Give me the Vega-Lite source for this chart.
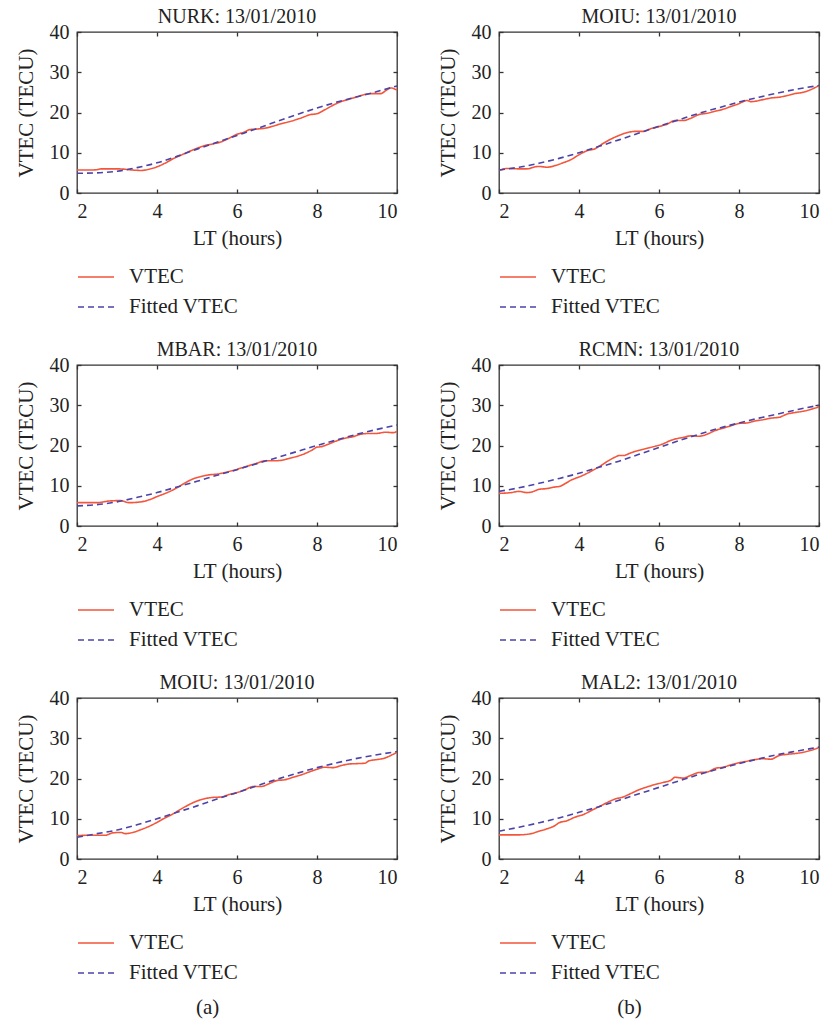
{
  "$schema": "https://vega.github.io/schema/vega-lite/v6.json",
  "background": "white",
  "padding": {"left": 14, "top": 6, "right": 5, "bottom": 5},
  "config": {
    "font": "Liberation Serif",
    "view": {"stroke": "#333", "strokeWidth": 1.3},
    "axis": {"grid": false, "domain": false, "tickSize": -4, "tickColor": "#333", "tickWidth": 1.3,
      "labelFont": "Liberation Serif", "labelFontSize": 20, "labelColor": "#222", "labelPadding": 12,
      "titleFont": "Liberation Serif", "titleFontSize": 21, "titleFontWeight": "normal", "titleColor": "#222", "titlePadding": 6},
    "axisLeft": {"titlePadding": 13},
    "title": {"font": "Liberation Serif", "fontSize": 20, "fontWeight": "normal", "color": "#222", "offset": -5},
    "legend": {"title": null, "direction": "vertical", "symbolType": "stroke", "symbolSize": 1296, "symbolStrokeWidth": 1.6,
      "labelFont": "Liberation Serif", "labelFontSize": 21, "labelColor": "#222", "labelOffset": 14, "clipHeight": 20, "rowPadding": 9},
    "line": {"strokeWidth": 1.6},
    "concat": {"spacing": 21}
  },
  "datasets": {
    "d": [
      {"p":"NURK","s":"VTEC","t":2,"v":5.7},{"p":"NURK","s":"VTEC","t":2.3,"v":5.7},{"p":"NURK","s":"VTEC","t":2.5,"v":5.8},{"p":"NURK","s":"VTEC","t":2.6,"v":6.0},{"p":"NURK","s":"VTEC","t":2.8,"v":6.0},{"p":"NURK","s":"VTEC","t":3.0,"v":6.0},{"p":"NURK","s":"VTEC","t":3.2,"v":5.9},{"p":"NURK","s":"VTEC","t":3.4,"v":5.7},{"p":"NURK","s":"VTEC","t":3.6,"v":5.6},{"p":"NURK","s":"VTEC","t":3.8,"v":5.9},{"p":"NURK","s":"VTEC","t":4.0,"v":6.5},{"p":"NURK","s":"VTEC","t":4.2,"v":7.4},{"p":"NURK","s":"VTEC","t":4.4,"v":8.5},{"p":"NURK","s":"VTEC","t":4.6,"v":9.4},{"p":"NURK","s":"VTEC","t":4.8,"v":10.3},{"p":"NURK","s":"VTEC","t":5.0,"v":11.1},{"p":"NURK","s":"VTEC","t":5.2,"v":11.8},{"p":"NURK","s":"VTEC","t":5.4,"v":12.2},{"p":"NURK","s":"VTEC","t":5.6,"v":12.7},{"p":"NURK","s":"VTEC","t":5.8,"v":13.6},{"p":"NURK","s":"VTEC","t":6.0,"v":14.6},{"p":"NURK","s":"VTEC","t":6.2,"v":15.2},{"p":"NURK","s":"VTEC","t":6.3,"v":15.7},{"p":"NURK","s":"VTEC","t":6.5,"v":15.9},{"p":"NURK","s":"VTEC","t":6.7,"v":16.1},{"p":"NURK","s":"VTEC","t":6.9,"v":16.6},{"p":"NURK","s":"VTEC","t":7.1,"v":17.2},{"p":"NURK","s":"VTEC","t":7.3,"v":17.7},{"p":"NURK","s":"VTEC","t":7.5,"v":18.3},{"p":"NURK","s":"VTEC","t":7.7,"v":19.0},{"p":"NURK","s":"VTEC","t":7.8,"v":19.4},{"p":"NURK","s":"VTEC","t":8.0,"v":19.7},{"p":"NURK","s":"VTEC","t":8.2,"v":20.7},{"p":"NURK","s":"VTEC","t":8.4,"v":21.8},{"p":"NURK","s":"VTEC","t":8.6,"v":22.7},{"p":"NURK","s":"VTEC","t":8.8,"v":23.3},{"p":"NURK","s":"VTEC","t":9.0,"v":23.9},{"p":"NURK","s":"VTEC","t":9.2,"v":24.5},{"p":"NURK","s":"VTEC","t":9.4,"v":24.7},{"p":"NURK","s":"VTEC","t":9.6,"v":24.7},{"p":"NURK","s":"VTEC","t":9.7,"v":25.3},{"p":"NURK","s":"VTEC","t":9.85,"v":26.1},{"p":"NURK","s":"VTEC","t":9.95,"v":25.8},{"p":"NURK","s":"VTEC","t":10,"v":25.6},
      {"p":"NURK","s":"Fitted VTEC","t":2,"v":4.9},{"p":"NURK","s":"Fitted VTEC","t":2.5,"v":5.0},{"p":"NURK","s":"Fitted VTEC","t":3,"v":5.4},{"p":"NURK","s":"Fitted VTEC","t":3.5,"v":6.3},{"p":"NURK","s":"Fitted VTEC","t":4,"v":7.5},{"p":"NURK","s":"Fitted VTEC","t":4.5,"v":9.1},{"p":"NURK","s":"Fitted VTEC","t":5,"v":10.9},{"p":"NURK","s":"Fitted VTEC","t":5.5,"v":12.6},{"p":"NURK","s":"Fitted VTEC","t":6,"v":14.3},{"p":"NURK","s":"Fitted VTEC","t":6.5,"v":16.0},{"p":"NURK","s":"Fitted VTEC","t":7,"v":17.8},{"p":"NURK","s":"Fitted VTEC","t":7.5,"v":19.5},{"p":"NURK","s":"Fitted VTEC","t":8,"v":21.1},{"p":"NURK","s":"Fitted VTEC","t":8.5,"v":22.6},{"p":"NURK","s":"Fitted VTEC","t":9,"v":23.9},{"p":"NURK","s":"Fitted VTEC","t":9.5,"v":25.2},{"p":"NURK","s":"Fitted VTEC","t":10,"v":26.6},

      {"p":"MOIUb","s":"VTEC","t":2,"v":5.6},{"p":"MOIUb","s":"VTEC","t":2.2,"v":6.1},{"p":"MOIUb","s":"VTEC","t":2.5,"v":6.0},{"p":"MOIUb","s":"VTEC","t":2.7,"v":6.0},{"p":"MOIUb","s":"VTEC","t":2.9,"v":6.5},{"p":"MOIUb","s":"VTEC","t":3.0,"v":6.6},{"p":"MOIUb","s":"VTEC","t":3.2,"v":6.4},{"p":"MOIUb","s":"VTEC","t":3.4,"v":6.8},{"p":"MOIUb","s":"VTEC","t":3.6,"v":7.5},{"p":"MOIUb","s":"VTEC","t":3.8,"v":8.3},{"p":"MOIUb","s":"VTEC","t":4.0,"v":9.5},{"p":"MOIUb","s":"VTEC","t":4.2,"v":10.5},{"p":"MOIUb","s":"VTEC","t":4.4,"v":11.0},{"p":"MOIUb","s":"VTEC","t":4.6,"v":12.3},{"p":"MOIUb","s":"VTEC","t":4.8,"v":13.4},{"p":"MOIUb","s":"VTEC","t":5.0,"v":14.3},{"p":"MOIUb","s":"VTEC","t":5.2,"v":15.0},{"p":"MOIUb","s":"VTEC","t":5.4,"v":15.3},{"p":"MOIUb","s":"VTEC","t":5.6,"v":15.3},{"p":"MOIUb","s":"VTEC","t":5.8,"v":16.0},{"p":"MOIUb","s":"VTEC","t":6.0,"v":16.5},{"p":"MOIUb","s":"VTEC","t":6.2,"v":17.1},{"p":"MOIUb","s":"VTEC","t":6.4,"v":18.0},{"p":"MOIUb","s":"VTEC","t":6.6,"v":18.0},{"p":"MOIUb","s":"VTEC","t":6.8,"v":18.6},{"p":"MOIUb","s":"VTEC","t":7.0,"v":19.5},{"p":"MOIUb","s":"VTEC","t":7.2,"v":19.8},{"p":"MOIUb","s":"VTEC","t":7.4,"v":20.3},{"p":"MOIUb","s":"VTEC","t":7.6,"v":20.8},{"p":"MOIUb","s":"VTEC","t":7.8,"v":21.5},{"p":"MOIUb","s":"VTEC","t":8.0,"v":22.2},{"p":"MOIUb","s":"VTEC","t":8.2,"v":23.0},{"p":"MOIUb","s":"VTEC","t":8.3,"v":22.7},{"p":"MOIUb","s":"VTEC","t":8.6,"v":23.2},{"p":"MOIUb","s":"VTEC","t":8.8,"v":23.6},{"p":"MOIUb","s":"VTEC","t":9.0,"v":23.8},{"p":"MOIUb","s":"VTEC","t":9.2,"v":24.2},{"p":"MOIUb","s":"VTEC","t":9.4,"v":24.7},{"p":"MOIUb","s":"VTEC","t":9.6,"v":25.0},{"p":"MOIUb","s":"VTEC","t":9.8,"v":25.7},{"p":"MOIUb","s":"VTEC","t":10,"v":26.7},
      {"p":"MOIUb","s":"Fitted VTEC","t":2,"v":5.7},{"p":"MOIUb","s":"Fitted VTEC","t":2.5,"v":6.4},{"p":"MOIUb","s":"Fitted VTEC","t":3,"v":7.4},{"p":"MOIUb","s":"Fitted VTEC","t":3.5,"v":8.6},{"p":"MOIUb","s":"Fitted VTEC","t":4,"v":10.0},{"p":"MOIUb","s":"Fitted VTEC","t":4.5,"v":11.6},{"p":"MOIUb","s":"Fitted VTEC","t":5,"v":13.2},{"p":"MOIUb","s":"Fitted VTEC","t":5.5,"v":14.9},{"p":"MOIUb","s":"Fitted VTEC","t":6,"v":16.6},{"p":"MOIUb","s":"Fitted VTEC","t":6.5,"v":18.2},{"p":"MOIUb","s":"Fitted VTEC","t":7,"v":19.8},{"p":"MOIUb","s":"Fitted VTEC","t":7.5,"v":21.2},{"p":"MOIUb","s":"Fitted VTEC","t":8,"v":22.6},{"p":"MOIUb","s":"Fitted VTEC","t":8.5,"v":23.8},{"p":"MOIUb","s":"Fitted VTEC","t":9,"v":24.9},{"p":"MOIUb","s":"Fitted VTEC","t":9.5,"v":25.9},{"p":"MOIUb","s":"Fitted VTEC","t":10,"v":26.7},

      {"p":"MBAR","s":"VTEC","t":2,"v":5.8},{"p":"MBAR","s":"VTEC","t":2.5,"v":5.8},{"p":"MBAR","s":"VTEC","t":2.8,"v":6.2},{"p":"MBAR","s":"VTEC","t":3.0,"v":6.3},{"p":"MBAR","s":"VTEC","t":3.1,"v":6.3},{"p":"MBAR","s":"VTEC","t":3.3,"v":5.8},{"p":"MBAR","s":"VTEC","t":3.6,"v":6.0},{"p":"MBAR","s":"VTEC","t":3.8,"v":6.5},{"p":"MBAR","s":"VTEC","t":4.0,"v":7.3},{"p":"MBAR","s":"VTEC","t":4.3,"v":8.5},{"p":"MBAR","s":"VTEC","t":4.5,"v":9.5},{"p":"MBAR","s":"VTEC","t":4.7,"v":10.7},{"p":"MBAR","s":"VTEC","t":4.9,"v":11.7},{"p":"MBAR","s":"VTEC","t":5.1,"v":12.3},{"p":"MBAR","s":"VTEC","t":5.3,"v":12.7},{"p":"MBAR","s":"VTEC","t":5.5,"v":12.9},{"p":"MBAR","s":"VTEC","t":5.7,"v":13.3},{"p":"MBAR","s":"VTEC","t":5.9,"v":13.8},{"p":"MBAR","s":"VTEC","t":6.1,"v":14.4},{"p":"MBAR","s":"VTEC","t":6.3,"v":15.0},{"p":"MBAR","s":"VTEC","t":6.5,"v":15.6},{"p":"MBAR","s":"VTEC","t":6.7,"v":16.2},{"p":"MBAR","s":"VTEC","t":6.9,"v":16.2},{"p":"MBAR","s":"VTEC","t":7.1,"v":16.3},{"p":"MBAR","s":"VTEC","t":7.3,"v":16.8},{"p":"MBAR","s":"VTEC","t":7.5,"v":17.3},{"p":"MBAR","s":"VTEC","t":7.7,"v":18.0},{"p":"MBAR","s":"VTEC","t":7.9,"v":19.0},{"p":"MBAR","s":"VTEC","t":8.0,"v":19.6},{"p":"MBAR","s":"VTEC","t":8.1,"v":19.7},{"p":"MBAR","s":"VTEC","t":8.3,"v":20.4},{"p":"MBAR","s":"VTEC","t":8.5,"v":21.2},{"p":"MBAR","s":"VTEC","t":8.7,"v":21.8},{"p":"MBAR","s":"VTEC","t":8.9,"v":22.2},{"p":"MBAR","s":"VTEC","t":9.1,"v":22.8},{"p":"MBAR","s":"VTEC","t":9.3,"v":23.0},{"p":"MBAR","s":"VTEC","t":9.5,"v":23.0},{"p":"MBAR","s":"VTEC","t":9.7,"v":23.3},{"p":"MBAR","s":"VTEC","t":9.9,"v":23.2},{"p":"MBAR","s":"VTEC","t":10,"v":23.5},
      {"p":"MBAR","s":"Fitted VTEC","t":2,"v":5.0},{"p":"MBAR","s":"Fitted VTEC","t":2.5,"v":5.3},{"p":"MBAR","s":"Fitted VTEC","t":3,"v":6.0},{"p":"MBAR","s":"Fitted VTEC","t":3.5,"v":7.1},{"p":"MBAR","s":"Fitted VTEC","t":4,"v":8.3},{"p":"MBAR","s":"Fitted VTEC","t":4.5,"v":9.7},{"p":"MBAR","s":"Fitted VTEC","t":5,"v":11.1},{"p":"MBAR","s":"Fitted VTEC","t":5.5,"v":12.6},{"p":"MBAR","s":"Fitted VTEC","t":6,"v":14.0},{"p":"MBAR","s":"Fitted VTEC","t":6.5,"v":15.5},{"p":"MBAR","s":"Fitted VTEC","t":7,"v":17.0},{"p":"MBAR","s":"Fitted VTEC","t":7.5,"v":18.5},{"p":"MBAR","s":"Fitted VTEC","t":8,"v":20.0},{"p":"MBAR","s":"Fitted VTEC","t":8.5,"v":21.4},{"p":"MBAR","s":"Fitted VTEC","t":9,"v":22.8},{"p":"MBAR","s":"Fitted VTEC","t":9.5,"v":24.0},{"p":"MBAR","s":"Fitted VTEC","t":10,"v":25.1},

      {"p":"RCMN","s":"VTEC","t":2,"v":8.1},{"p":"RCMN","s":"VTEC","t":2.3,"v":8.3},{"p":"RCMN","s":"VTEC","t":2.5,"v":8.6},{"p":"RCMN","s":"VTEC","t":2.7,"v":8.3},{"p":"RCMN","s":"VTEC","t":2.8,"v":8.4},{"p":"RCMN","s":"VTEC","t":3.0,"v":9.1},{"p":"RCMN","s":"VTEC","t":3.2,"v":9.3},{"p":"RCMN","s":"VTEC","t":3.4,"v":9.7},{"p":"RCMN","s":"VTEC","t":3.5,"v":9.8},{"p":"RCMN","s":"VTEC","t":3.7,"v":10.8},{"p":"RCMN","s":"VTEC","t":3.8,"v":11.4},{"p":"RCMN","s":"VTEC","t":3.9,"v":11.8},{"p":"RCMN","s":"VTEC","t":4.1,"v":12.6},{"p":"RCMN","s":"VTEC","t":4.3,"v":13.6},{"p":"RCMN","s":"VTEC","t":4.5,"v":14.7},{"p":"RCMN","s":"VTEC","t":4.7,"v":16.0},{"p":"RCMN","s":"VTEC","t":4.9,"v":17.1},{"p":"RCMN","s":"VTEC","t":5.0,"v":17.5},{"p":"RCMN","s":"VTEC","t":5.1,"v":17.5},{"p":"RCMN","s":"VTEC","t":5.3,"v":18.2},{"p":"RCMN","s":"VTEC","t":5.5,"v":18.8},{"p":"RCMN","s":"VTEC","t":5.7,"v":19.3},{"p":"RCMN","s":"VTEC","t":5.9,"v":19.8},{"p":"RCMN","s":"VTEC","t":6.1,"v":20.4},{"p":"RCMN","s":"VTEC","t":6.3,"v":21.3},{"p":"RCMN","s":"VTEC","t":6.4,"v":21.6},{"p":"RCMN","s":"VTEC","t":6.6,"v":22.0},{"p":"RCMN","s":"VTEC","t":6.8,"v":22.4},{"p":"RCMN","s":"VTEC","t":7.0,"v":22.3},{"p":"RCMN","s":"VTEC","t":7.2,"v":22.8},{"p":"RCMN","s":"VTEC","t":7.4,"v":23.7},{"p":"RCMN","s":"VTEC","t":7.6,"v":24.3},{"p":"RCMN","s":"VTEC","t":7.8,"v":24.9},{"p":"RCMN","s":"VTEC","t":8.0,"v":25.5},{"p":"RCMN","s":"VTEC","t":8.2,"v":25.6},{"p":"RCMN","s":"VTEC","t":8.4,"v":26.1},{"p":"RCMN","s":"VTEC","t":8.6,"v":26.4},{"p":"RCMN","s":"VTEC","t":8.8,"v":26.8},{"p":"RCMN","s":"VTEC","t":9.0,"v":27.0},{"p":"RCMN","s":"VTEC","t":9.2,"v":27.8},{"p":"RCMN","s":"VTEC","t":9.4,"v":28.2},{"p":"RCMN","s":"VTEC","t":9.6,"v":28.5},{"p":"RCMN","s":"VTEC","t":9.8,"v":29.0},{"p":"RCMN","s":"VTEC","t":10,"v":29.6},
      {"p":"RCMN","s":"Fitted VTEC","t":2,"v":8.6},{"p":"RCMN","s":"Fitted VTEC","t":2.5,"v":9.5},{"p":"RCMN","s":"Fitted VTEC","t":3,"v":10.6},{"p":"RCMN","s":"Fitted VTEC","t":3.5,"v":11.8},{"p":"RCMN","s":"Fitted VTEC","t":4,"v":13.1},{"p":"RCMN","s":"Fitted VTEC","t":4.5,"v":14.6},{"p":"RCMN","s":"Fitted VTEC","t":5,"v":16.1},{"p":"RCMN","s":"Fitted VTEC","t":5.5,"v":17.8},{"p":"RCMN","s":"Fitted VTEC","t":6,"v":19.5},{"p":"RCMN","s":"Fitted VTEC","t":6.5,"v":21.2},{"p":"RCMN","s":"Fitted VTEC","t":7,"v":22.8},{"p":"RCMN","s":"Fitted VTEC","t":7.5,"v":24.3},{"p":"RCMN","s":"Fitted VTEC","t":8,"v":25.6},{"p":"RCMN","s":"Fitted VTEC","t":8.5,"v":26.8},{"p":"RCMN","s":"Fitted VTEC","t":9,"v":27.9},{"p":"RCMN","s":"Fitted VTEC","t":9.5,"v":29.0},{"p":"RCMN","s":"Fitted VTEC","t":10,"v":30.0},

      {"p":"MOIUa","s":"VTEC","t":2,"v":5.8},{"p":"MOIUa","s":"VTEC","t":2.3,"v":5.9},{"p":"MOIUa","s":"VTEC","t":2.7,"v":5.9},{"p":"MOIUa","s":"VTEC","t":2.9,"v":6.5},{"p":"MOIUa","s":"VTEC","t":3.1,"v":6.6},{"p":"MOIUa","s":"VTEC","t":3.2,"v":6.3},{"p":"MOIUa","s":"VTEC","t":3.4,"v":6.6},{"p":"MOIUa","s":"VTEC","t":3.6,"v":7.3},{"p":"MOIUa","s":"VTEC","t":3.8,"v":8.1},{"p":"MOIUa","s":"VTEC","t":4.0,"v":9.1},{"p":"MOIUa","s":"VTEC","t":4.2,"v":10.2},{"p":"MOIUa","s":"VTEC","t":4.4,"v":11.2},{"p":"MOIUa","s":"VTEC","t":4.6,"v":12.4},{"p":"MOIUa","s":"VTEC","t":4.8,"v":13.5},{"p":"MOIUa","s":"VTEC","t":5.0,"v":14.4},{"p":"MOIUa","s":"VTEC","t":5.2,"v":15.0},{"p":"MOIUa","s":"VTEC","t":5.4,"v":15.3},{"p":"MOIUa","s":"VTEC","t":5.6,"v":15.4},{"p":"MOIUa","s":"VTEC","t":5.8,"v":16.0},{"p":"MOIUa","s":"VTEC","t":6.0,"v":16.5},{"p":"MOIUa","s":"VTEC","t":6.2,"v":17.2},{"p":"MOIUa","s":"VTEC","t":6.4,"v":18.0},{"p":"MOIUa","s":"VTEC","t":6.6,"v":18.0},{"p":"MOIUa","s":"VTEC","t":6.8,"v":18.7},{"p":"MOIUa","s":"VTEC","t":7.0,"v":19.5},{"p":"MOIUa","s":"VTEC","t":7.2,"v":19.7},{"p":"MOIUa","s":"VTEC","t":7.4,"v":20.3},{"p":"MOIUa","s":"VTEC","t":7.6,"v":20.9},{"p":"MOIUa","s":"VTEC","t":7.8,"v":21.6},{"p":"MOIUa","s":"VTEC","t":8.0,"v":22.3},{"p":"MOIUa","s":"VTEC","t":8.2,"v":22.8},{"p":"MOIUa","s":"VTEC","t":8.4,"v":22.7},{"p":"MOIUa","s":"VTEC","t":8.6,"v":23.2},{"p":"MOIUa","s":"VTEC","t":8.8,"v":23.6},{"p":"MOIUa","s":"VTEC","t":9.0,"v":23.7},{"p":"MOIUa","s":"VTEC","t":9.2,"v":23.8},{"p":"MOIUa","s":"VTEC","t":9.3,"v":24.4},{"p":"MOIUa","s":"VTEC","t":9.5,"v":24.7},{"p":"MOIUa","s":"VTEC","t":9.7,"v":25.1},{"p":"MOIUa","s":"VTEC","t":9.9,"v":26.0},{"p":"MOIUa","s":"VTEC","t":10,"v":26.5},
      {"p":"MOIUa","s":"Fitted VTEC","t":2,"v":5.4},{"p":"MOIUa","s":"Fitted VTEC","t":2.5,"v":6.3},{"p":"MOIUa","s":"Fitted VTEC","t":3,"v":7.2},{"p":"MOIUa","s":"Fitted VTEC","t":3.5,"v":8.5},{"p":"MOIUa","s":"Fitted VTEC","t":4,"v":10.0},{"p":"MOIUa","s":"Fitted VTEC","t":4.5,"v":11.6},{"p":"MOIUa","s":"Fitted VTEC","t":5,"v":13.2},{"p":"MOIUa","s":"Fitted VTEC","t":5.5,"v":14.9},{"p":"MOIUa","s":"Fitted VTEC","t":6,"v":16.5},{"p":"MOIUa","s":"Fitted VTEC","t":6.5,"v":18.2},{"p":"MOIUa","s":"Fitted VTEC","t":7,"v":19.8},{"p":"MOIUa","s":"Fitted VTEC","t":7.5,"v":21.3},{"p":"MOIUa","s":"Fitted VTEC","t":8,"v":22.7},{"p":"MOIUa","s":"Fitted VTEC","t":8.5,"v":23.9},{"p":"MOIUa","s":"Fitted VTEC","t":9,"v":25.0},{"p":"MOIUa","s":"Fitted VTEC","t":9.5,"v":25.9},{"p":"MOIUa","s":"Fitted VTEC","t":10,"v":26.7},

      {"p":"MAL2","s":"VTEC","t":2,"v":6.0},{"p":"MAL2","s":"VTEC","t":2.5,"v":6.0},{"p":"MAL2","s":"VTEC","t":2.8,"v":6.3},{"p":"MAL2","s":"VTEC","t":3.0,"v":6.9},{"p":"MAL2","s":"VTEC","t":3.2,"v":7.5},{"p":"MAL2","s":"VTEC","t":3.4,"v":8.3},{"p":"MAL2","s":"VTEC","t":3.5,"v":9.0},{"p":"MAL2","s":"VTEC","t":3.7,"v":9.5},{"p":"MAL2","s":"VTEC","t":3.9,"v":10.4},{"p":"MAL2","s":"VTEC","t":4.1,"v":11.0},{"p":"MAL2","s":"VTEC","t":4.3,"v":12.0},{"p":"MAL2","s":"VTEC","t":4.5,"v":13.0},{"p":"MAL2","s":"VTEC","t":4.7,"v":14.0},{"p":"MAL2","s":"VTEC","t":4.9,"v":14.9},{"p":"MAL2","s":"VTEC","t":5.1,"v":15.4},{"p":"MAL2","s":"VTEC","t":5.3,"v":16.3},{"p":"MAL2","s":"VTEC","t":5.5,"v":17.2},{"p":"MAL2","s":"VTEC","t":5.7,"v":17.9},{"p":"MAL2","s":"VTEC","t":5.9,"v":18.5},{"p":"MAL2","s":"VTEC","t":6.1,"v":19.0},{"p":"MAL2","s":"VTEC","t":6.3,"v":19.6},{"p":"MAL2","s":"VTEC","t":6.4,"v":20.3},{"p":"MAL2","s":"VTEC","t":6.6,"v":20.1},{"p":"MAL2","s":"VTEC","t":6.8,"v":20.8},{"p":"MAL2","s":"VTEC","t":7.0,"v":21.5},{"p":"MAL2","s":"VTEC","t":7.2,"v":21.6},{"p":"MAL2","s":"VTEC","t":7.4,"v":22.5},{"p":"MAL2","s":"VTEC","t":7.6,"v":22.8},{"p":"MAL2","s":"VTEC","t":7.8,"v":23.4},{"p":"MAL2","s":"VTEC","t":8.0,"v":23.9},{"p":"MAL2","s":"VTEC","t":8.2,"v":24.3},{"p":"MAL2","s":"VTEC","t":8.4,"v":24.7},{"p":"MAL2","s":"VTEC","t":8.6,"v":24.9},{"p":"MAL2","s":"VTEC","t":8.8,"v":24.8},{"p":"MAL2","s":"VTEC","t":9.0,"v":25.7},{"p":"MAL2","s":"VTEC","t":9.2,"v":26.0},{"p":"MAL2","s":"VTEC","t":9.4,"v":26.2},{"p":"MAL2","s":"VTEC","t":9.6,"v":26.5},{"p":"MAL2","s":"VTEC","t":9.8,"v":27.0},{"p":"MAL2","s":"VTEC","t":10,"v":27.7},
      {"p":"MAL2","s":"Fitted VTEC","t":2,"v":6.9},{"p":"MAL2","s":"Fitted VTEC","t":2.5,"v":7.9},{"p":"MAL2","s":"Fitted VTEC","t":3,"v":9.0},{"p":"MAL2","s":"Fitted VTEC","t":3.5,"v":10.2},{"p":"MAL2","s":"Fitted VTEC","t":4,"v":11.6},{"p":"MAL2","s":"Fitted VTEC","t":4.5,"v":13.0},{"p":"MAL2","s":"Fitted VTEC","t":5,"v":14.6},{"p":"MAL2","s":"Fitted VTEC","t":5.5,"v":16.2},{"p":"MAL2","s":"Fitted VTEC","t":6,"v":17.8},{"p":"MAL2","s":"Fitted VTEC","t":6.5,"v":19.4},{"p":"MAL2","s":"Fitted VTEC","t":7,"v":21.0},{"p":"MAL2","s":"Fitted VTEC","t":7.5,"v":22.4},{"p":"MAL2","s":"Fitted VTEC","t":8,"v":23.7},{"p":"MAL2","s":"Fitted VTEC","t":8.5,"v":24.9},{"p":"MAL2","s":"Fitted VTEC","t":9,"v":26.0},{"p":"MAL2","s":"Fitted VTEC","t":9.5,"v":26.9},{"p":"MAL2","s":"Fitted VTEC","t":10,"v":27.8}
    ]
  },
  "hconcat": [
    {
      "title": {"text": "(a)", "orient": "bottom", "anchor": "middle", "fontSize": 21, "offset": 13},
      "vconcat": [
        {"data": {"name": "d"}, "transform": [{"filter": "datum.p == 'NURK'"}], "title": "NURK: 13/01/2010", "width": 320, "height": 161,
         "layer": [
          {"mark": {"type": "line", "interpolate": "monotone"}, "encoding": {
            "x": {"field": "t", "type": "quantitative", "scale": {"domain": [2, 10], "nice": false}, "axis": {"values": [2, 4, 6, 8, 10], "title": "LT (hours)"}},
            "y": {"field": "v", "type": "quantitative", "scale": {"domain": [0, 40], "nice": false}, "axis": {"values": [0, 10, 20, 30, 40], "title": "VTEC (TECU)"}},
            "color": {"field": "s", "type": "nominal", "scale": {"domain": ["VTEC", "Fitted VTEC"], "range": ["#f4563b", "#4a44a8"]}, "legend": {"orient": "none", "legendX": 0, "legendY": 235}},
            "strokeDash": {"field": "s", "type": "nominal", "scale": {"domain": ["VTEC", "Fitted VTEC"], "range": [[1, 0], [6, 4]]}, "legend": {"orient": "none", "legendX": 0, "legendY": 235}}}},
          {"mark": {"type": "line", "opacity": 0}, "encoding": {
            "x": {"field": "t", "type": "quantitative", "axis": {"orient": "top", "values": [2, 4, 6, 8, 10], "labels": false, "labelPadding": 0, "title": null}},
            "y": {"field": "v", "type": "quantitative", "axis": {"orient": "right", "values": [0, 10, 20, 30, 40], "labels": false, "labelPadding": 0, "title": null}}}}
         ],
         "resolve": {"axis": {"x": "independent", "y": "independent"}}},
        {"data": {"name": "d"}, "transform": [{"filter": "datum.p == 'MBAR'"}], "title": "MBAR: 13/01/2010", "width": 320, "height": 161,
         "layer": [
          {"mark": {"type": "line", "interpolate": "monotone"}, "encoding": {
            "x": {"field": "t", "type": "quantitative", "scale": {"domain": [2, 10], "nice": false}, "axis": {"values": [2, 4, 6, 8, 10], "title": "LT (hours)"}},
            "y": {"field": "v", "type": "quantitative", "scale": {"domain": [0, 40], "nice": false}, "axis": {"values": [0, 10, 20, 30, 40], "title": "VTEC (TECU)"}},
            "color": {"field": "s", "type": "nominal", "scale": {"domain": ["VTEC", "Fitted VTEC"], "range": ["#f4563b", "#4a44a8"]}, "legend": {"orient": "none", "legendX": 0, "legendY": 235}},
            "strokeDash": {"field": "s", "type": "nominal", "scale": {"domain": ["VTEC", "Fitted VTEC"], "range": [[1, 0], [6, 4]]}, "legend": {"orient": "none", "legendX": 0, "legendY": 235}}}},
          {"mark": {"type": "line", "opacity": 0}, "encoding": {
            "x": {"field": "t", "type": "quantitative", "axis": {"orient": "top", "values": [2, 4, 6, 8, 10], "labels": false, "labelPadding": 0, "title": null}},
            "y": {"field": "v", "type": "quantitative", "axis": {"orient": "right", "values": [0, 10, 20, 30, 40], "labels": false, "labelPadding": 0, "title": null}}}}
         ],
         "resolve": {"axis": {"x": "independent", "y": "independent"}}},
        {"data": {"name": "d"}, "transform": [{"filter": "datum.p == 'MOIUa'"}], "title": "MOIU: 13/01/2010", "width": 320, "height": 161,
         "layer": [
          {"mark": {"type": "line", "interpolate": "monotone"}, "encoding": {
            "x": {"field": "t", "type": "quantitative", "scale": {"domain": [2, 10], "nice": false}, "axis": {"values": [2, 4, 6, 8, 10], "title": "LT (hours)"}},
            "y": {"field": "v", "type": "quantitative", "scale": {"domain": [0, 40], "nice": false}, "axis": {"values": [0, 10, 20, 30, 40], "title": "VTEC (TECU)"}},
            "color": {"field": "s", "type": "nominal", "scale": {"domain": ["VTEC", "Fitted VTEC"], "range": ["#f4563b", "#4a44a8"]}, "legend": {"orient": "none", "legendX": 0, "legendY": 235}},
            "strokeDash": {"field": "s", "type": "nominal", "scale": {"domain": ["VTEC", "Fitted VTEC"], "range": [[1, 0], [6, 4]]}, "legend": {"orient": "none", "legendX": 0, "legendY": 235}}}},
          {"mark": {"type": "line", "opacity": 0}, "encoding": {
            "x": {"field": "t", "type": "quantitative", "axis": {"orient": "top", "values": [2, 4, 6, 8, 10], "labels": false, "labelPadding": 0, "title": null}},
            "y": {"field": "v", "type": "quantitative", "axis": {"orient": "right", "values": [0, 10, 20, 30, 40], "labels": false, "labelPadding": 0, "title": null}}}}
         ],
         "resolve": {"axis": {"x": "independent", "y": "independent"}}}
      ],
      "resolve": {"scale": {"color": "independent", "strokeDash": "independent"}, "legend": {"color": "independent", "strokeDash": "independent"}}
    },
    {
      "title": {"text": "(b)", "orient": "bottom", "anchor": "middle", "fontSize": 21, "offset": 13},
      "vconcat": [
        {"data": {"name": "d"}, "transform": [{"filter": "datum.p == 'MOIUb'"}], "title": "MOIU: 13/01/2010", "width": 320, "height": 161,
         "layer": [
          {"mark": {"type": "line", "interpolate": "monotone"}, "encoding": {
            "x": {"field": "t", "type": "quantitative", "scale": {"domain": [2, 10], "nice": false}, "axis": {"values": [2, 4, 6, 8, 10], "title": "LT (hours)"}},
            "y": {"field": "v", "type": "quantitative", "scale": {"domain": [0, 40], "nice": false}, "axis": {"values": [0, 10, 20, 30, 40], "title": "VTEC (TECU)"}},
            "color": {"field": "s", "type": "nominal", "scale": {"domain": ["VTEC", "Fitted VTEC"], "range": ["#f4563b", "#4a44a8"]}, "legend": {"orient": "none", "legendX": 0, "legendY": 235}},
            "strokeDash": {"field": "s", "type": "nominal", "scale": {"domain": ["VTEC", "Fitted VTEC"], "range": [[1, 0], [6, 4]]}, "legend": {"orient": "none", "legendX": 0, "legendY": 235}}}},
          {"mark": {"type": "line", "opacity": 0}, "encoding": {
            "x": {"field": "t", "type": "quantitative", "axis": {"orient": "top", "values": [2, 4, 6, 8, 10], "labels": false, "labelPadding": 0, "title": null}},
            "y": {"field": "v", "type": "quantitative", "axis": {"orient": "right", "values": [0, 10, 20, 30, 40], "labels": false, "labelPadding": 0, "title": null}}}}
         ],
         "resolve": {"axis": {"x": "independent", "y": "independent"}}},
        {"data": {"name": "d"}, "transform": [{"filter": "datum.p == 'RCMN'"}], "title": "RCMN: 13/01/2010", "width": 320, "height": 161,
         "layer": [
          {"mark": {"type": "line", "interpolate": "monotone"}, "encoding": {
            "x": {"field": "t", "type": "quantitative", "scale": {"domain": [2, 10], "nice": false}, "axis": {"values": [2, 4, 6, 8, 10], "title": "LT (hours)"}},
            "y": {"field": "v", "type": "quantitative", "scale": {"domain": [0, 40], "nice": false}, "axis": {"values": [0, 10, 20, 30, 40], "title": "VTEC (TECU)"}},
            "color": {"field": "s", "type": "nominal", "scale": {"domain": ["VTEC", "Fitted VTEC"], "range": ["#f4563b", "#4a44a8"]}, "legend": {"orient": "none", "legendX": 0, "legendY": 235}},
            "strokeDash": {"field": "s", "type": "nominal", "scale": {"domain": ["VTEC", "Fitted VTEC"], "range": [[1, 0], [6, 4]]}, "legend": {"orient": "none", "legendX": 0, "legendY": 235}}}},
          {"mark": {"type": "line", "opacity": 0}, "encoding": {
            "x": {"field": "t", "type": "quantitative", "axis": {"orient": "top", "values": [2, 4, 6, 8, 10], "labels": false, "labelPadding": 0, "title": null}},
            "y": {"field": "v", "type": "quantitative", "axis": {"orient": "right", "values": [0, 10, 20, 30, 40], "labels": false, "labelPadding": 0, "title": null}}}}
         ],
         "resolve": {"axis": {"x": "independent", "y": "independent"}}},
        {"data": {"name": "d"}, "transform": [{"filter": "datum.p == 'MAL2'"}], "title": "MAL2: 13/01/2010", "width": 320, "height": 161,
         "layer": [
          {"mark": {"type": "line", "interpolate": "monotone"}, "encoding": {
            "x": {"field": "t", "type": "quantitative", "scale": {"domain": [2, 10], "nice": false}, "axis": {"values": [2, 4, 6, 8, 10], "title": "LT (hours)"}},
            "y": {"field": "v", "type": "quantitative", "scale": {"domain": [0, 40], "nice": false}, "axis": {"values": [0, 10, 20, 30, 40], "title": "VTEC (TECU)"}},
            "color": {"field": "s", "type": "nominal", "scale": {"domain": ["VTEC", "Fitted VTEC"], "range": ["#f4563b", "#4a44a8"]}, "legend": {"orient": "none", "legendX": 0, "legendY": 235}},
            "strokeDash": {"field": "s", "type": "nominal", "scale": {"domain": ["VTEC", "Fitted VTEC"], "range": [[1, 0], [6, 4]]}, "legend": {"orient": "none", "legendX": 0, "legendY": 235}}}},
          {"mark": {"type": "line", "opacity": 0}, "encoding": {
            "x": {"field": "t", "type": "quantitative", "axis": {"orient": "top", "values": [2, 4, 6, 8, 10], "labels": false, "labelPadding": 0, "title": null}},
            "y": {"field": "v", "type": "quantitative", "axis": {"orient": "right", "values": [0, 10, 20, 30, 40], "labels": false, "labelPadding": 0, "title": null}}}}
         ],
         "resolve": {"axis": {"x": "independent", "y": "independent"}}}
      ],
      "resolve": {"scale": {"color": "independent", "strokeDash": "independent"}, "legend": {"color": "independent", "strokeDash": "independent"}}
    }
  ],
  "spacing": 35,
  "resolve": {"scale": {"color": "independent", "strokeDash": "independent"}, "legend": {"color": "independent", "strokeDash": "independent"}}
}
